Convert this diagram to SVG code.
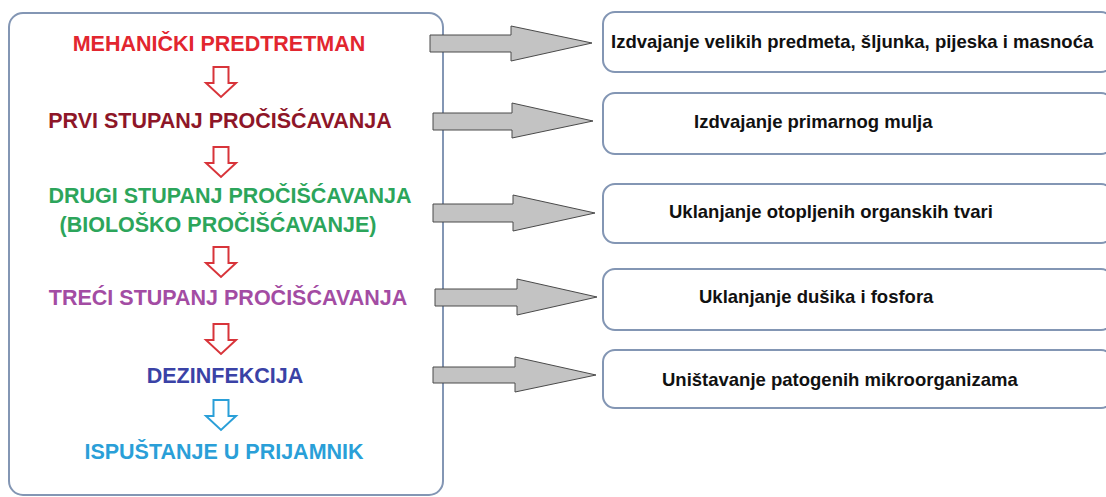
<svg xmlns="http://www.w3.org/2000/svg" width="1106" height="497" viewBox="0 0 1106 497">
<defs>
<style>
.box{fill:#fff;stroke:#8396b4;stroke-width:2}
.lt{font-family:"Liberation Sans",Arial,sans-serif;font-weight:bold;font-size:21.5px;text-anchor:middle}
.rt{font-family:"Liberation Sans",Arial,sans-serif;font-weight:bold;font-size:18.5px;fill:#111}
.garrow{fill:#c3c3c3;stroke:#4a4a4a;stroke-width:1}
.darrow{fill:#fff;stroke-width:2;stroke-linejoin:miter}
</style>
<path id="down" d="M -7.5 0 H 7.5 V 16 H 15 L 0 30 L -15 16 H -7.5 Z"/>
</defs>
<rect width="1106" height="497" fill="#fff"/>
<g id="main">
<rect class="box" x="9" y="13" width="434" height="482" rx="14"/>
<text class="lt" x="219" y="51" fill="#e2262f">MEHANIČKI PREDTRETMAN</text>
<text class="lt" x="220" y="128" fill="#8e1628">PRVI STUPANJ PROČIŠĆAVANJA</text>
<text class="lt" x="230" y="203" fill="#2ca55b">DRUGI STUPANJ PROČIŠĆAVANJA</text>
<text class="lt" x="218" y="232" fill="#2ca55b">(BIOLOŠKO PROČIŠĆAVANJE)</text>
<text class="lt" x="228" y="305" fill="#a34ca3">TREĆI STUPANJ PROČIŠĆAVANJA</text>
<text class="lt" x="225" y="383" fill="#3a42a6">DEZINFEKCIJA</text>
<text class="lt" x="224" y="459" fill="#2a9fd8">ISPUŠTANJE U PRIJAMNIK</text>
<use href="#down" class="darrow" x="221" y="67" stroke="#d8343a"/>
<use href="#down" class="darrow" x="221" y="147" stroke="#d8343a"/>
<use href="#down" class="darrow" x="221" y="247" stroke="#d8343a"/>
<use href="#down" class="darrow" x="221" y="324" stroke="#d8343a"/>
<use href="#down" class="darrow" x="221" y="400" stroke="#2a9fd8"/>
</g>
<g id="r1">
<rect class="box" x="603" y="12" width="510" height="60" rx="12"/>
<text class="rt" x="611" y="48">Izdvajanje velikih predmeta, šljunka, pijeska i masnoća</text>
</g>
<g id="r2">
<rect class="box" x="603" y="93" width="510" height="61" rx="12"/>
<text class="rt" x="694" y="128">Izdvajanje primarnog mulja</text>
</g>
<g id="r3">
<rect class="box" x="603" y="184" width="510" height="59" rx="12"/>
<text class="rt" x="669" y="218">Uklanjanje otopljenih organskih tvari</text>
</g>
<g id="r4">
<rect class="box" x="603" y="269" width="510" height="61" rx="12"/>
<text class="rt" x="699" y="303">Uklanjanje dušika i fosfora</text>
</g>
<g id="r5">
<rect class="box" x="603" y="350" width="510" height="58" rx="12"/>
<text class="rt" x="662" y="386">Uništavanje patogenih mikroorganizama</text>
</g>
<g id="connectors">
<path class="garrow" d="M430 35 H511 V26 L592 43 L511 61 V52 H430 Z"/>
<path class="garrow" d="M433 113 H512 V103 L593 121 L512 138 V130 H433 Z"/>
<path class="garrow" d="M433 204 H513 V195 L595 213 L513 231 V222 H433 Z"/>
<path class="garrow" d="M435 289 H517 V279 L597 297 L517 315 V306 H435 Z"/>
<path class="garrow" d="M433 367 H515 V357 L596 375 L515 392 V383 H433 Z"/>
</g>
</svg>
